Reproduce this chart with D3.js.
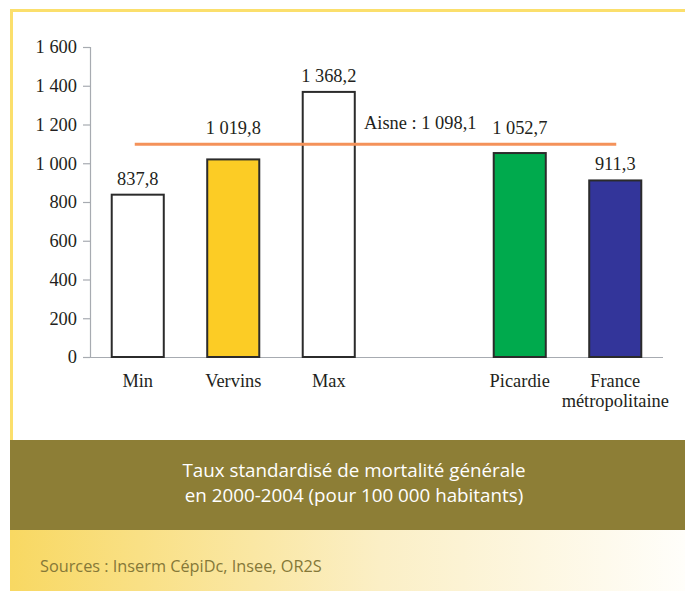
<!doctype html>
<html>
<head>
<meta charset="utf-8">
<style>
    body { margin: 0; background: #fff; }
    svg { display: block; }
    .serif { font-family: "Liberation Serif", "Times New Roman", serif; font-size: 18.4px; fill: #231f20; }
    .sans { font-family: "Open Sans", "Noto Sans", sans-serif; }
</style>
<script src="https://d3js.org/d3.v7.min.js"></script>
</head>
<body>
<svg width="685" height="591"></svg>
<script>
    // data
    var categories = ["Min", "Vervins", "Max", "_gap", "Picardie", "France métropolitaine"];
    var values = [837.8, 1019.8, 1368.2, null, 1052.7, 911.3];
    var barColors = ["#ffffff", "#fccc25", "#ffffff", null, "#00aa4d", "#33359a"];
    var aisne = 1098.1;
    var yTicks = [0, 200, 400, 600, 800, 1000, 1200, 1400, 1600];
    var captionLines = ["Taux standardisé de mortalité générale", "en 2000-2004 (pour 100 000 habitants)"];
    var sources = "Sources : Inserm CépiDc, Insee, OR2S";

    var fr = d3.formatLocale({ decimal: ",", thousands: " ", grouping: [3], currency: ["", " €"] });
    var fmtTick = fr.format(",d"),
        fmtVal = fr.format(",.1f");

    var svg = d3.select("svg");

    // frame
    var defs = svg.append("defs");
    var grad = defs.append("linearGradient").attr("id", "srcgrad");
    grad.append("stop").attr("offset", "0%").attr("stop-color", "#f8d862");
    grad.append("stop").attr("offset", "55%").attr("stop-color", "#fbefc6");
    grad.append("stop").attr("offset", "100%").attr("stop-color", "#fffefa");

    svg.append("line").attr("x1", 10).attr("x2", 685).attr("y1", 10.5).attr("y2", 10.5)
       .attr("stroke", "#fbdf6c").attr("stroke-width", 3);
    svg.append("line").attr("x1", 11.5).attr("x2", 11.5).attr("y1", 9).attr("y2", 440)
       .attr("stroke", "#fbdf6c").attr("stroke-width", 3);

    svg.append("rect").attr("x", 10).attr("y", 440).attr("width", 675).attr("height", 90)
       .attr("fill", "#8d7e36");
    svg.append("rect").attr("x", 10).attr("y", 530).attr("width", 675).attr("height", 61)
       .attr("fill", "url(#srcgrad)");

    svg.append("g").selectAll("text").data(captionLines).enter().append("text")
       .attr("class", "sans")
       .attr("x", 354).attr("y", function(d, i) { return 477 + i * 25; })
       .attr("text-anchor", "middle").attr("font-size", "18.8px").attr("fill", "#ffffff")
       .text(function(d) { return d; });

    svg.append("text").attr("class", "sans")
       .attr("x", 40).attr("y", 572).attr("font-size", "16.3px").attr("fill", "#857838")
       .text(sources);

    // scales
    var x = d3.scaleBand().domain(categories).range([90, 663]).paddingInner(0.455).paddingOuter(0.2275);
    var y = d3.scaleLinear().domain([0, 1600]).range([357, 47]);

    // y axis
    var yAxis = svg.append("g").attr("transform", "translate(90,0)")
       .call(d3.axisLeft(y).tickValues(yTicks).tickFormat(fmtTick).tickSize(7).tickPadding(6));
    yAxis.select(".domain").attr("stroke", "#a7abb1").attr("stroke-width", 1.2).attr("d", "M0.5," + y(1600) + "V" + y(0));
    yAxis.selectAll(".tick line").attr("stroke", "#a7abb1").attr("stroke-width", 1.2);
    yAxis.selectAll(".tick text").attr("class", "serif").attr("font-size", null).attr("font-family", null);

    // x axis line
    svg.append("line").attr("x1", 90).attr("x2", 663).attr("y1", y(0) + 0.5).attr("y2", y(0) + 0.5)
       .attr("stroke", "#a7abb1").attr("stroke-width", 1.2);

    var data = categories.map(function(c, i) { return { cat: c, value: values[i], color: barColors[i] }; })
                         .filter(function(d) { return d.value !== null; });

    // bars
    svg.append("g").selectAll("rect").data(data).enter().append("rect")
       .attr("x", function(d) { return x(d.cat); })
       .attr("y", function(d) { return y(d.value); })
       .attr("width", x.bandwidth())
       .attr("height", function(d) { return y(0) - y(d.value); })
       .attr("fill", function(d) { return d.color; })
       .attr("stroke", "#2b2b2b").attr("stroke-width", 2);

    // category labels
    svg.append("g").selectAll("text").data(data).enter().append("text")
       .attr("class", "serif").attr("text-anchor", "middle")
       .attr("x", function(d) { return x(d.cat) + x.bandwidth() / 2; })
       .attr("y", 387)
       .each(function(d) {
           var words = d.cat.split(" ");
           var t = d3.select(this);
           words.forEach(function(w, i) {
               t.append("tspan").attr("x", x(d.cat) + x.bandwidth() / 2).attr("dy", i ? 20 : 0).text(w);
           });
       });

    // Aisne reference line
    var lineY = y(aisne);
    svg.append("line")
       .attr("x1", x("Min") + x.bandwidth() / 2 - 3)
       .attr("x2", x("France métropolitaine") + x.bandwidth() / 2 + 1)
       .attr("y1", lineY).attr("y2", lineY)
       .attr("stroke", "#f4925a").attr("stroke-width", 3);
    svg.append("text").attr("class", "serif").attr("text-anchor", "middle")
       .attr("x", x("_gap") + x.bandwidth() / 2 - 4).attr("y", lineY - 15)
       .text("Aisne : " + fmtVal(aisne));

    // value labels, lifted above the reference line when they would cross it
    svg.append("g").selectAll("text").data(data).enter().append("text")
       .attr("class", "serif").attr("text-anchor", "middle")
       .attr("x", function(d) { return x(d.cat) + x.bandwidth() / 2; })
       .attr("y", function(d) {
           var ly = y(d.value) - 10;
           if (ly + 3 > lineY && ly - 13 < lineY) ly = lineY - 10;
           return ly;
       })
       .text(function(d) { return fmtVal(d.value); });
</script>
</body>
</html>
